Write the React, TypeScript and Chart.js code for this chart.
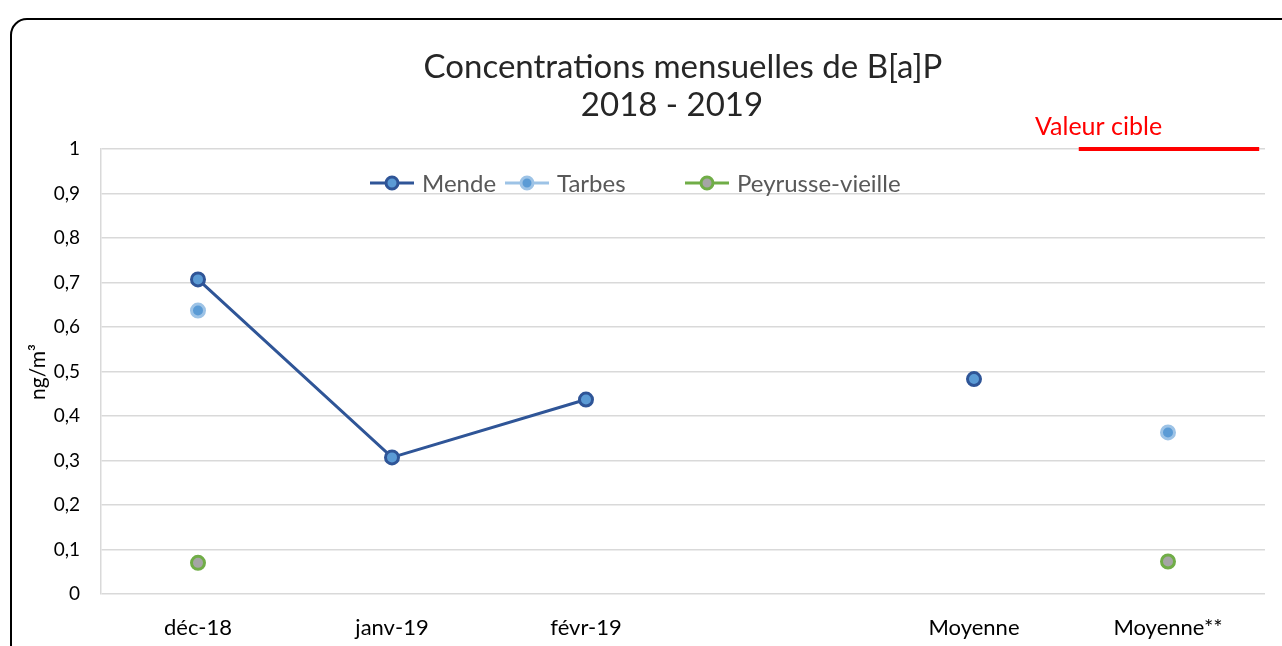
import React, { useEffect, useRef } from "react";
import { Chart, registerables } from "chart.js";

Chart.register(...registerables);

const categories = ["déc-18", "janv-19", "févr-19", "", "Moyenne", "Moyenne**"];
const mende = [0.707, 0.307, 0.437, null, 0.483, null];
const tarbes = [0.637, null, null, null, null, 0.363];
const peyrusse = [0.07, null, null, null, null, 0.073];
const targetValue = 1;
const targetLabel = "Valeur cible";
const titleLines = ["Concentrations mensuelles de B[a]P", "2018 - 2019"];
const yTicks = [0, 0.1, 0.2, 0.3, 0.4, 0.5, 0.6, 0.7, 0.8, 0.9, 1];

const FONT = "Lato, 'Open Sans', sans-serif";

const overlay = {
  id: "overlay",
  beforeDraw(chart: any) {
    const ctx = chart.ctx;
    ctx.save();
    ctx.fillStyle = "#fff";
    ctx.fillRect(0, 0, chart.width, chart.height);
    ctx.restore();
  },
  afterDraw(chart: any) {
    const ctx = chart.ctx;
    const xs = chart.scales.x;
    const ys = chart.scales.y;
    ctx.save();
    // frame
    ctx.strokeStyle = "#000";
    ctx.lineWidth = 2;
    ctx.beginPath();
    (ctx as any).roundRect(11, 19, 1300, 700, 16);
    ctx.stroke();
    // title
    ctx.fillStyle = "#262626";
    ctx.font = `33px ${FONT}`;
    ctx.textAlign = "center";
    ctx.textBaseline = "middle";
    ctx.fillText(titleLines[0], 683, 67);
    ctx.fillText(titleLines[1], 672, 105);
    // y title
    ctx.save();
    ctx.translate(38, 372);
    ctx.rotate(-Math.PI / 2);
    ctx.font = `21px ${FONT}`;
    ctx.fillStyle = "#000";
    ctx.fillText("ng/m³", 0, 0);
    ctx.restore();
    // target line
    const n = categories.length - 1;
    const cw = xs.getPixelForValue(1) - xs.getPixelForValue(0);
    const cx = xs.getPixelForValue(n);
    const yT = ys.getPixelForValue(targetValue);
    ctx.strokeStyle = "#ff0000";
    ctx.lineWidth = 4;
    ctx.beginPath();
    ctx.moveTo(cx - cw * 0.46, yT);
    ctx.lineTo(cx + cw * 0.47, yT);
    ctx.stroke();
    ctx.fillStyle = "#ff0000";
    ctx.font = `25px ${FONT}`;
    ctx.textAlign = "left";
    ctx.fillText(targetLabel, 1035, 127);
    // legend
    const items = chart.data.datasets.map((d: any) => d);
    const starts = [370, 505, 685];
    ctx.font = `24px ${FONT}`;
    items.forEach((d: any, i: number) => {
      const x0 = starts[i];
      const y0 = 183;
      ctx.strokeStyle = d.borderColor;
      ctx.lineWidth = 3;
      ctx.beginPath();
      ctx.moveTo(x0, y0);
      ctx.lineTo(x0 + 44, y0);
      ctx.stroke();
      ctx.beginPath();
      ctx.arc(x0 + 22, y0, 6, 0, Math.PI * 2);
      ctx.fillStyle = d.pointBackgroundColor;
      ctx.fill();
      ctx.lineWidth = 3;
      ctx.strokeStyle = d.pointBorderColor;
      ctx.stroke();
      ctx.fillStyle = "#595959";
      ctx.textAlign = "left";
      ctx.fillText(d.label, x0 + 52, y0 + 1);
    });
    ctx.restore();
  },
};

export default function App() {
  const ref = useRef<HTMLCanvasElement>(null);
  useEffect(() => {
    if (!ref.current) return;
    const chart = new Chart(ref.current, {
      type: "line",
      data: {
        labels: categories,
        datasets: [
          {
            label: "Mende",
            data: mende,
            borderColor: "#2F5597",
            borderWidth: 3,
            pointBackgroundColor: "#5B9BD5",
            pointBorderColor: "#2F5597",
            pointBorderWidth: 3,
            pointRadius: 6.5,
            spanGaps: false,
          },
          {
            label: "Tarbes",
            data: tarbes,
            borderColor: "#9DC3E6",
            borderWidth: 3,
            pointBackgroundColor: "#5B9BD5",
            pointBorderColor: "#9DC3E6",
            pointBorderWidth: 3,
            pointRadius: 6.5,
            spanGaps: false,
          },
          {
            label: "Peyrusse-vieille",
            data: peyrusse,
            borderColor: "#70AD47",
            borderWidth: 3,
            pointBackgroundColor: "#A5A5A5",
            pointBorderColor: "#70AD47",
            pointBorderWidth: 3,
            pointRadius: 6.5,
            spanGaps: false,
          },
        ],
      },
      options: {
        animation: false,
        responsive: false,
        maintainAspectRatio: false,
        layout: { padding: { top: 149, right: 17, left: 0, bottom: 0 } },
        plugins: { legend: { display: false }, tooltip: { enabled: false }, title: { display: false } },
        scales: {
          x: {
            offset: true,
            grid: { display: false, drawTicks: false },
            border: { display: false },
            ticks: { color: "#000", font: { size: 22, family: FONT }, padding: 21, maxRotation: 0, autoSkip: false },
            afterFit(s: any) { s.height = 52; },
          },
          y: {
            min: 0,
            max: 1,
            afterBuildTicks(s: any) { s.ticks = yTicks.map((v) => ({ value: v })); },
            grid: { color: "#d9d9d9", lineWidth: 1.5, drawTicks: false },
            border: { display: true, color: "#d9d9d9", width: 1.5 },
            ticks: {
              color: "#000",
              font: { size: 19, family: FONT },
              padding: 21,
              callback: (v: any) => String(v).replace(".", ","),
            },
            afterFit(s: any) { s.width = 101; },
          },
        },
      },
      plugins: [overlay],
    });
    return () => chart.destroy();
  }, []);
  return (
    <div style={{ position: "fixed", left: 0, top: 0, width: 1282, height: 646 }}>
      <canvas ref={ref} width={1282} height={646} style={{ width: 1282, height: 646 }} />
    </div>
  );
}
